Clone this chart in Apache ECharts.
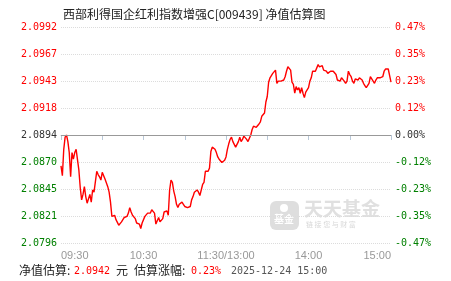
<!DOCTYPE html>
<html><head><meta charset="utf-8">
<script src="https://cdn.jsdelivr.net/npm/echarts@6/dist/echarts.min.js"></script>
<style>html,body{margin:0;padding:0;background:#fff}#c{width:451px;height:281px}</style>
</head><body><div id="c"></div>
<script>
const titleText = '西部利得国企红利指数增强C[009439] 净值估算图';
const prevNav = 2.0894;
const timeLabels = ['09:30','10:30','11:30/13:00','14:00','15:00'];
const leftLabels = ['2.0796','2.0821','2.0845','2.0870','2.0894','2.0918','2.0943','2.0967','2.0992'];
const rightLabels = ['-0.47%','-0.35%','-0.23%','-0.12%','0.00%','0.12%','0.23%','0.35%','0.47%'];
const navs = [
2.0866,2.0857,2.0881,2.0892,2.0894,2.0888,2.0878,2.0856,2.0878,2.0872,
2.0878,2.0881,2.0882,2.0862,2.0846,2.0835,2.0840,2.0847,2.0838,2.0832,
2.0833,2.0840,2.0833,2.0844,2.0842,2.0842,2.0861,2.0858,2.0856,2.0853,
2.0860,2.0860,2.0854,2.0853,2.0847,2.0842,2.0833,2.0820,2.0819,2.0821,
2.0817,2.0816,2.0812,2.0813,2.0815,2.0817,2.0819,2.0818,2.0820,2.0823,
2.0828,2.0824,2.0821,2.0820,2.0818,2.0814,2.0815,2.0813,2.0809,2.0814,
2.0813,2.0820,2.0821,2.0823,2.0824,2.0823,2.0826,2.0825,2.0823,2.0813,
2.0814,2.0819,2.0815,2.0814,2.0818,2.0824,2.0824,2.0825,2.0821,2.0844,
2.0853,2.0851,2.0843,2.0838,2.0831,2.0828,2.0831,2.0832,2.0833,2.0831,
2.0829,2.0830,2.0828,2.0827,2.0829,2.0835,2.0838,2.0842,2.0842,2.0844,
2.0842,2.0839,2.0840,2.0849,2.0851,2.0861,2.0862,2.0861,2.0864,2.0879,
2.0883,2.0884,2.0881,2.0878,2.0874,2.0872,2.0872,2.0869,2.0869,2.0871,
2.0874,2.0881,2.0886,2.0890,2.0892,2.0888,2.0887,2.0883,2.0884,2.0888,
2.0892,2.0888,2.0890,2.0893,2.0892,2.0890,2.0888,2.0889,2.0894,2.0899,
2.0902,2.0903,2.0901,2.0902,2.0904,2.0906,2.0911,2.0912,2.0914,2.0924,
2.0929,2.0942,2.0946,2.0948,2.0950,2.0951,2.0953,2.0941,2.0943,2.0943,
2.0943,2.0942,2.0944,2.0947,2.0952,2.0956,2.0957,2.0953,2.0942,2.0940,
2.0932,2.0938,2.0935,2.0937,2.0932,2.0937,2.0932,2.0928,2.0933,2.0934,
2.0937,2.0943,2.0946,2.0952,2.0953,2.0952,2.0951,2.0958,2.0956,2.0956,
2.0957,2.0953,2.0954,2.0952,2.0950,2.0951,2.0952,2.0952,2.0952,2.0951,
2.0949,2.0944,2.0945,2.0943,2.0946,2.0945,2.0943,2.0941,2.0943,2.0952,
2.0949,2.0947,2.0943,2.0941,2.0945,2.0945,2.0944,2.0946,2.0946,2.0944,
2.0941,2.0939,2.0937,2.0937,2.0941,2.0947,2.0946,2.0943,2.0941,2.0944,
2.0946,2.0946,2.0946,2.0945,2.0947,2.0952,2.0954,2.0955,2.0954,2.0948,
2.0942];
const estNav = '2.0942';
const estPct = '0.23%';
const estTime = '2025-12-24 15:00';

const MONO = '"DejaVu Sans Mono", monospace';
const CJK = '"Noto Sans CJK SC", sans-serif';
const yMin = -0.47, yMax = 0.47, yStep = 0.1175;
function idxOf(v){ return Math.round((v - yMin) / yStep); }
function colorOf(v){ const i = idxOf(v); return i > 4 ? '#ff0000' : (i < 4 ? '#008000' : '#333333'); }

const seriesData = navs.map((v, i) => [i, (v / prevNav - 1) * 100]);

function txt(x, str, font, fill){
  return {type: 'text', left: x, top: 271, style: {text: str, font: font, fill: fill, textVerticalAlign: 'middle'}, };
}

const chart = echarts.init(document.getElementById('c'), null, {renderer: 'canvas'});
chart.setOption({
  animation: false,
  title: {
    text: titleText, left: 58, top: 3,
    textStyle: {fontSize: 12, fontWeight: 'normal', color: '#222', fontFamily: CJK}
  },
  grid: {left: 61, right: 60, top: 27, bottom: 38},
  xAxis: {
    type: 'value', min: 0, max: 240, interval: 30,
    axisLine: {show: true, lineStyle: {color: '#b9c8d8', width: 1}},
    axisTick: {show: true, length: 5, inside: false, lineStyle: {color: '#b9c8d8'}},
    splitLine: {show: false},
    axisLabel: {
      color: '#999', fontSize: 11, fontFamily: '"Liberation Sans", Arial, sans-serif', margin: 7,
      alignMinLabel: 'left', alignMaxLabel: 'right',
      formatter: v => (v % 60 === 0 ? timeLabels[v / 60] : '')
    }
  },
  yAxis: [{
    type: 'value', position: 'left', min: yMin, max: yMax, interval: yStep,
    axisLine: {show: false}, axisTick: {show: false},
    splitLine: {show: true, lineStyle: {color: '#dcdcdc', type: 'dotted', width: 1}},
    axisLabel: {margin: 4, fontSize: 10, fontFamily: MONO,
      formatter: v => leftLabels[idxOf(v)], color: v => colorOf(v)}
  }, {
    type: 'value', position: 'right', min: yMin, max: yMax, interval: yStep,
    axisLine: {show: false}, axisTick: {show: false}, splitLine: {show: false},
    axisLabel: {margin: 4, fontSize: 10, fontFamily: MONO,
      formatter: v => rightLabels[idxOf(v)], color: v => colorOf(v)}
  }],
  graphic: [
    {type: 'rect', left: 270, top: 201, z: -1, shape: {width: 29, height: 29, r: 6}, style: {fill: '#dedede'}},
    {type: 'text', left: 274, top: 214, z: -1, style: {text: '基金', fill: '#fff', font: 'bold 10px "Noto Sans CJK SC"'}},
    {type: 'circle', left: 280, top: 204, z: -1, shape: {r: 4}, style: {fill: '#fff'}},
    {type: 'text', left: 304, top: 199, z: -1, style: {text: '天天基金', fill: '#e0e0e0', font: 'bold 19px "Noto Sans CJK SC"'}},
    {type: 'text', left: 306, top: 221, z: -1, style: {text: '链 接 您 与 财 富', fill: '#d8d8d8', font: '7px "Noto Sans CJK SC"'}},
    {type: 'text', left: 19, top: 264, style: {text: '净值估算:', font: '12px "Noto Sans CJK SC"', fill: '#222'}},
    {type: 'text', left: 74, top: 266, style: {text: estNav, font: '10px "DejaVu Sans Mono"', fill: '#ff0000'}},
    {type: 'text', left: 116, top: 264, style: {text: '元', font: '12px "Noto Sans CJK SC"', fill: '#222'}},
    {type: 'text', left: 134, top: 264, style: {text: '估算涨幅:', font: '12px "Noto Sans CJK SC"', fill: '#222'}},
    {type: 'text', left: 191, top: 266, style: {text: estPct, font: '10px "DejaVu Sans Mono"', fill: '#ff0000'}},
    {type: 'text', left: 231, top: 266, style: {text: estTime, font: '10px "DejaVu Sans Mono"', fill: '#555'}}
  ],
  series: [{
    type: 'line', data: seriesData, showSymbol: false, symbol: 'none',
    lineStyle: {color: '#ff0000', width: 1.4}, xAxisIndex: 0, yAxisIndex: 0,
    markLine: {silent: true, symbol: 'none', label: {show: false},
      lineStyle: {color: '#999', type: 'solid', width: 1.2}, data: [{yAxis: 0}]}
  }]
});
</script></body></html>
